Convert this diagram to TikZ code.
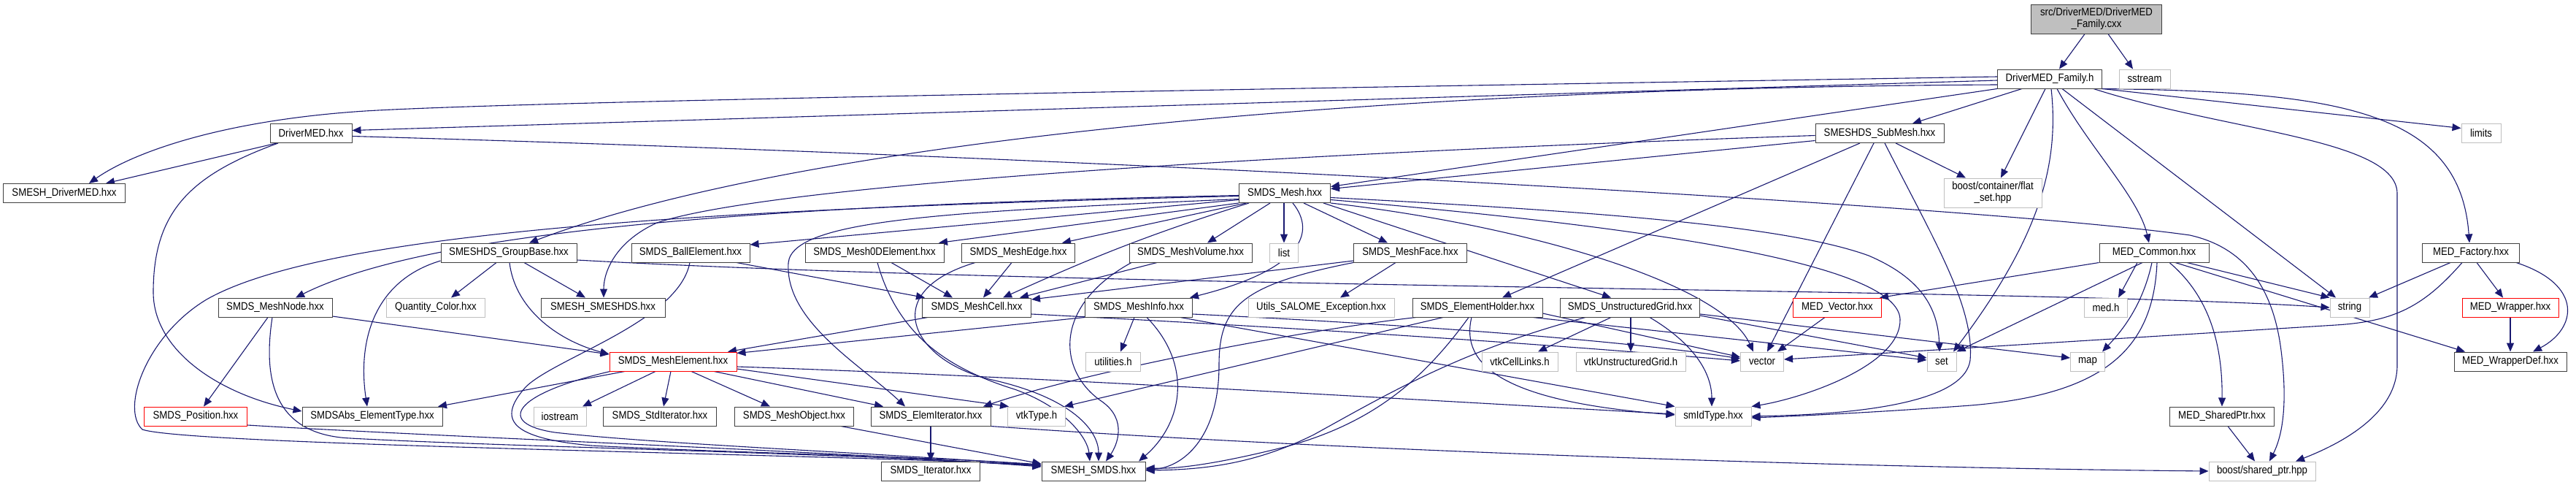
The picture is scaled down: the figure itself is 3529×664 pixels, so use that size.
\documentclass[tikz,border=0pt]{standalone}
\usepackage{fontspec}
\newfontfamily\nodefont{Liberation Sans}[FakeStretch=0.886]
\usetikzlibrary{arrows.meta}
\definecolor{edgec}{HTML}{191970}
\definecolor{bordc}{HTML}{404040}
\definecolor{greyc}{HTML}{BFBFBF}
\definecolor{redc}{HTML}{FF0000}
\pgfdeclarelayer{bg}
\pgfsetlayers{bg,main}
\tikzset{
  nb/.style={draw=bordc, line width=1pt, fill=white, inner sep=0pt, minimum height=26pt,
    font={\nodefont\fontsize{14.9}{16}\selectfont}, align=center, text=black},
  gb/.style={nb, draw=greyc},
  rb/.style={nb, draw=redc, line width=0.9pt},
  fb/.style={nb, fill=greyc},
  ed/.style={draw=edgec, line width=1.1pt, -{Triangle[length=12pt,width=10pt]}},
}
\begin{document}
\begin{tikzpicture}[x=1pt,y=-1pt]
\useasboundingbox (0,0) rectangle (3529,664);
% row A
\node[fb, minimum width=179pt, minimum height=40pt] (cxx) at (2872,26) {src/DriverMED/DriverMED\\\_Family.cxx};
% row B
\node[nb, minimum width=143pt] (famh) at (2808,108) {DriverMED\_Family.h};
\node[gb, minimum width=70pt] (sstream) at (2938,108) {sstream};
% row C
\node[nb, minimum width=112pt] (drvmed) at (426,182.5) {DriverMED.hxx};
\node[nb, minimum width=176pt] (submesh) at (2575,182.5) {SMESHDS\_SubMesh.hxx};
\node[gb, minimum width=54pt] (limits) at (3399,182.5) {limits};
% row D
\node[nb, minimum width=167pt] (smeshdrv) at (88,264.5) {SMESH\_DriverMED.hxx};
\node[nb, minimum width=125pt] (mesh) at (1760,264.5) {SMDS\_Mesh.hxx};
\node[gb, minimum width=134pt, minimum height=40pt] (flatset) at (2730,264) {boost/container/flat\\\_set.hpp};
% row E
\node[nb, minimum width=186pt] (groupbase) at (697,346) {SMESHDS\_GroupBase.hxx};
\node[nb, minimum width=162pt] (ball) at (946,346) {SMDS\_BallElement.hxx};
\node[nb, minimum width=190pt] (m0d) at (1198,346) {SMDS\_Mesh0DElement.hxx};
\node[nb, minimum width=155pt] (edge) at (1395,346) {SMDS\_MeshEdge.hxx};
\node[nb, minimum width=168pt] (volume) at (1631,346) {SMDS\_MeshVolume.hxx};
\node[gb, minimum width=39pt] (list) at (1759,346) {list};
\node[nb, minimum width=155pt] (face) at (1932,346) {SMDS\_MeshFace.hxx};
\node[nb, minimum width=150pt] (medcommon) at (2951,346) {MED\_Common.hxx};
\node[nb, minimum width=133pt] (medfactory) at (3385,346) {MED\_Factory.hxx};
% row F
\node[nb, minimum width=156pt] (meshnode) at (377,421) {SMDS\_MeshNode.hxx};
\node[gb, minimum width=135pt] (qcolor) at (597,421) {Quantity\_Color.hxx};
\node[nb, minimum width=170pt] (smeshds) at (826,421) {SMESH\_SMESHDS.hxx};
\node[nb, minimum width=149pt] (cell) at (1338,421) {SMDS\_MeshCell.hxx};
\node[nb, minimum width=147pt] (info) at (1560,421) {SMDS\_MeshInfo.hxx};
\node[gb, minimum width=200pt] (utilsexc) at (1810,421) {Utils\_SALOME\_Exception.hxx};
\node[nb, minimum width=178pt] (holder) at (2024,421) {SMDS\_ElementHolder.hxx};
\node[nb, minimum width=191pt] (ugrid) at (2233,421) {SMDS\_UnstructuredGrid.hxx};
\node[rb, minimum width=121pt] (medvector) at (2517,421) {MED\_Vector.hxx};
\node[gb, minimum width=59pt] (medh) at (2885,421) {med.h};
\node[gb, minimum width=54pt] (string) at (3219,421) {string};
\node[rb, minimum width=132pt] (medwrapper) at (3439,421) {MED\_Wrapper.hxx};
% row G
\node[rb, minimum width=174pt] (element) at (922,495) {SMDS\_MeshElement.hxx};
\node[gb, minimum width=75pt] (utilities) at (1525,495) {utilities.h};
\node[gb, minimum width=104pt] (vtkcelllinks) at (2082,495) {vtkCellLinks.h};
\node[gb, minimum width=150pt] (vtkugrid) at (2234,495) {vtkUnstructuredGrid.h};
\node[gb, minimum width=59pt] (vector) at (2414,495) {vector};
\node[gb, minimum width=40pt] (set) at (2660,495) {set};
\node[gb, minimum width=47pt] (map) at (2860,495) {map};
\node[nb, minimum width=154pt] (wrapperdef) at (3439,495) {MED\_WrapperDef.hxx};
% row H
\node[rb, minimum width=141pt] (position) at (268,570) {SMDS\_Position.hxx};
\node[nb, minimum width=192pt] (abstype) at (510,570) {SMDSAbs\_ElementType.hxx};
\node[gb, minimum width=72pt] (iostream) at (767,570) {iostream};
\node[nb, minimum width=155pt] (stditer) at (904,570) {SMDS\_StdIterator.hxx};
\node[nb, minimum width=163pt] (meshobj) at (1088,570) {SMDS\_MeshObject.hxx};
\node[nb, minimum width=164pt] (elemiter) at (1275,570) {SMDS\_ElemIterator.hxx};
\node[gb, minimum width=79pt] (vtktype) at (1420,570) {vtkType.h};
\node[gb, minimum width=104pt] (smidtype) at (2347,570) {smIdType.hxx};
\node[nb, minimum width=143pt] (sharedptr) at (3044,570) {MED\_SharedPtr.hxx};
% row I
\node[nb, minimum width=135pt] (iterator) at (1275,645) {SMDS\_Iterator.hxx};
\node[nb, minimum width=142pt] (smds) at (1498,645) {SMESH\_SMDS.hxx};
\node[gb, minimum width=146pt] (boostshared) at (3099,645) {boost/shared\_ptr.hpp};

\begin{pgfonlayer}{bg}
% cxx
\draw[ed] ([xshift=-16pt]cxx.south) -- ([xshift=13pt]famh.north);
\draw[ed] ([xshift=16pt]cxx.south) -- ([xshift=-16pt]sstream.north);
% DriverMED_Family.h
\draw[ed] ([yshift=-2pt]famh.west) -- ([yshift=4pt]drvmed.east);
\draw[ed] ([yshift=3pt]famh.west) .. controls (1500,125) and (700,140) .. (500,152) .. controls (300,165) and (180,210) .. ([xshift=34pt]smeshdrv.north);
\draw[ed] ([yshift=-8pt]famh.west) .. controls (1900,120) and (1100,190) .. ([xshift=28pt]groupbase.north);
\draw[ed] (famh.south west) -- ([yshift=9pt]mesh.east);
\draw[ed] ([xshift=-38pt]famh.south) -- ([xshift=45pt]submesh.north);
\draw[ed] ([xshift=-6pt]famh.south) -- ([xshift=11pt]flatset.north);
\draw[ed] ([xshift=2pt]famh.south) .. controls (2822,230) and (2790,330) .. ([xshift=16pt]set.north);
\draw[ed] ([xshift=10pt]famh.south) .. controls (2860,200) and (2930,270) .. ([xshift=-7pt]medcommon.north);
\draw[ed] ([xshift=17pt]famh.south) -- ([xshift=-19pt]string.north);
\draw[ed] (famh.south east) -- ([yshift=7pt]limits.west);
\draw[ed] ([xshift=-4pt]famh.south east) .. controls (3200,125) and (3370,150) .. ([xshift=-2pt]medfactory.north);
\draw[ed] ([xshift=-12pt]famh.south east) .. controls (3050,180) and (3284,190) .. (3284,265) -- (3284,500) .. controls (3284,570) and (3200,610) .. ([xshift=46pt]boostshared.north);
% DriverMED.hxx
\draw[ed] ([xshift=-47pt]drvmed.south) -- ([xshift=57pt]smeshdrv.north);
\draw[ed] ([xshift=-45pt]drvmed.south) .. controls (260,240) and (210,290) .. (210,400) .. controls (210,480) and (300,540) .. ([yshift=7pt]abstype.west);
\draw[ed] ([yshift=-4pt]drvmed.east) .. controls (1500,215) and (2700,280) .. (3000,322) .. controls (3080,340) and (3115,400) .. (3125,480) .. controls (3135,560) and (3125,600) .. ([xshift=10pt]boostshared.north);
% SMESHDS_SubMesh
\draw[ed] ([yshift=-10pt]submesh.west) -- ([yshift=6pt]mesh.east);
\draw[ed] ([yshift=-3pt]submesh.west) .. controls (1700,212) and (1050,255) .. (900,305) .. controls (845,330) and (827,370) .. ([xshift=1pt]smeshds.north);
\draw[ed] ([xshift=-27pt]submesh.south) -- ([xshift=34pt]holder.north);
\draw[ed] ([xshift=-8pt]submesh.south) -- ([xshift=7pt]vector.north);
\draw[ed] ([xshift=7pt]submesh.south) .. controls (2650,330) and (2705,420) .. (2699,493) .. controls (2690,560) and (2500,568) .. (smidtype.east);
\draw[ed] ([xshift=22pt]submesh.south) -- ([xshift=-37pt]flatset.north);
% SMDS_Mesh
\draw[ed] ([xshift=-1pt]mesh.south) -- (list.north);
\draw[ed] ([yshift=-3pt]mesh.west) .. controls (1100,280) and (600,310) .. ([xshift=28pt]meshnode.north);
\draw[ed] ([yshift=-4pt]mesh.west) .. controls (1000,285) and (450,315) .. (283,410) .. controls (200,460) and (165,560) .. (195,588) .. controls (260,610) and (1150,622) .. ([yshift=8pt]smds.west);
\draw[ed] ([yshift=-8pt]mesh.west) .. controls (1300,290) and (1085,300) .. (1080,360) .. controls (1075,440) and (1180,500) .. ([xshift=-35pt]elemiter.north);
\draw[ed] ([yshift=-9pt]mesh.west) -- ([yshift=11pt]ball.east);
\draw[ed] (mesh.south west) -- ([xshift=88pt]m0d.north);
\draw[ed] ([xshift=-53pt]mesh.south) -- ([xshift=60pt]edge.north);
\draw[ed] ([xshift=-49pt]mesh.south) .. controls (1560,325) and (1480,360) .. ([xshift=36pt]cell.north);
\draw[ed] ([xshift=-20pt]mesh.south) -- ([xshift=23pt]volume.north);
\draw[ed] ([xshift=11pt]mesh.south) .. controls (1805,320) and (1780,370) .. ([xshift=70pt]info.north);
\draw[ed] ([xshift=26pt]mesh.south) -- ([xshift=-31pt]face.north);
\draw[ed] ([xshift=53pt]mesh.south) -- ([xshift=-26pt]ugrid.north);
\draw[ed] ([yshift=-6pt]mesh.east) .. controls (2200,290) and (2450,310) .. (2560,350) .. controls (2630,380) and (2655,420) .. ([xshift=-3pt]set.north);
\draw[ed] ([yshift=-9pt]mesh.east) .. controls (2250,310) and (2600,360) .. (2603,437) .. controls (2605,500) and (2470,545) .. (smidtype.north east);
\draw[ed] (mesh.south east) .. controls (2100,310) and (2360,390) .. ([xshift=-12pt]vector.north);
% SMESHDS_GroupBase
\draw[ed] ([xshift=-17pt]groupbase.south) -- ([xshift=21pt]qcolor.north);
\draw[ed] ([xshift=21pt]groupbase.south) -- ([xshift=-24pt]smeshds.north);
\draw[ed] ([xshift=1pt]groupbase.south) .. controls (705,420) and (760,465) .. ([yshift=10pt]element.west);
\draw[ed] ([yshift=-11pt]groupbase.west) .. controls (510,385) and (490,470) .. ([xshift=-7pt]abstype.north);
\draw[ed] ([yshift=-10pt]groupbase.east) .. controls (1500,395) and (2800,395) .. (string.west);
% cell providers
\draw[ed] ([xshift=63pt]ball.south) -- ([xshift=4pt]cell.north west);
\draw[ed] ([xshift=-1pt]ball.south) .. controls (930,440) and (760,490) .. (720,530) .. controls (680,575) and (700,600) .. (810,610) .. controls (1000,620) and (1250,624) .. ([yshift=9pt]smds.west);
\draw[ed] ([xshift=23pt]m0d.south) -- ([xshift=-33pt]cell.north);
\draw[ed] ([xshift=4pt]m0d.south) .. controls (1230,460) and (1300,505) .. (1390,533) .. controls (1460,558) and (1490,600) .. ([xshift=-5pt]smds.north);
\draw[ed] ([xshift=-9pt]edge.south) -- ([xshift=9pt]cell.north);
\draw[ed] ([xshift=-59pt]edge.south) .. controls (1200,400) and (1250,495) .. (1359,520) .. controls (1470,545) and (1505,590) .. ([xshift=7pt]smds.north);
\draw[ed] ([xshift=-46pt]volume.south) -- ([xshift=59pt]cell.north);
\draw[ed] ([xshift=-81pt]volume.south) .. controls (1440,420) and (1450,510) .. (1510,550) .. controls (1545,575) and (1530,610) .. ([xshift=17pt]smds.north);
\draw[ed] ([yshift=-11pt]face.west) -- ([yshift=11pt]cell.east);
\draw[ed] (face.south west) .. controls (1700,390) and (1670,420) .. (1670,500) .. controls (1670,600) and (1620,640) .. ([yshift=2pt]smds.east);
\draw[ed] ([xshift=-20pt]face.south) -- ([xshift=26pt]utilsexc.north);
% MED_Common
\draw[ed] (medcommon.south west) -- ([xshift=58pt]medvector.north);
\draw[ed] ([xshift=-23pt]medcommon.south) -- ([xshift=17pt]medh.north);
\draw[ed] ([xshift=-16pt]medcommon.south) -- (set.north east);
\draw[ed] ([xshift=-3pt]medcommon.south) .. controls (2935,420) and (2905,455) .. ([xshift=20pt]map.north);
\draw[ed] ([xshift=4pt]medcommon.south) .. controls (2950,480) and (2880,540) .. (2700,555) .. controls (2550,566) and (2450,570) .. ([yshift=-2pt]smidtype.east);
\draw[ed] ([xshift=21pt]medcommon.south) .. controls (3020,400) and (3045,460) .. (sharedptr.north);
\draw[ed] ([xshift=29pt]medcommon.south) -- ([xshift=-62pt]wrapperdef.north);
\draw[ed] ([xshift=45pt]medcommon.south) -- (string.north west);
% MED_Factory
\draw[ed] ([xshift=-28pt]medfactory.south) -- ([xshift=26pt]string.north);
\draw[ed] ([xshift=-12pt]medfactory.south) .. controls (3320,420) and (3280,440) .. (3200,445) -- ([yshift=3pt]vector.east);
\draw[ed] ([xshift=8pt]medfactory.south) -- ([xshift=-10pt]medwrapper.north);
\draw[ed] ([xshift=62pt]medfactory.south) .. controls (3540,390) and (3530,450) .. ([xshift=31pt]wrapperdef.north);
\draw[ed] ([xshift=-17pt]medvector.south) -- ([xshift=21pt]vector.north);
\draw[ed] (medwrapper) -- (wrapperdef);
% SMDS_MeshNode / Position
\draw[ed] ([xshift=-10pt]meshnode.south) -- ([xshift=11pt]position.north);
\draw[ed] ([xshift=-4pt]meshnode.south) .. controls (360,520) and (375,595) .. (480,600) .. controls (700,612) and (1150,620) .. ([yshift=7pt]smds.west);
\draw[ed] ([yshift=-12pt]meshnode.east) -- ([yshift=10pt]element.west);
\draw[ed] ([yshift=-12pt]position.east) .. controls (600,598) and (1150,618) .. ([yshift=6pt]smds.west);
% SMDS_MeshCell / MeshInfo
\draw[ed] ([xshift=-67pt]cell.south) -- ([xshift=75pt]element.north);
\draw[ed] ([yshift=-9pt]cell.east) .. controls (1900,455) and (2200,478) .. ([yshift=1pt]vector.west);
\draw[ed] (info.south west) -- ([yshift=-2pt]element.north east);
\draw[ed] ([xshift=-6pt]info.south) -- ([xshift=10pt]utilities.north);
\draw[ed] ([xshift=11pt]info.south) .. controls (1635,500) and (1620,580) .. ([xshift=62pt]smds.north);
\draw[ed] ([xshift=57pt]info.south) -- (smidtype.north west);
\draw[ed] ([yshift=-9pt]info.east) .. controls (2000,448) and (2250,470) .. ([yshift=4pt]vector.west);
% SMDS_ElementHolder
\draw[ed] ([xshift=-84pt]holder.south) .. controls (1800,450) and (1500,505) .. ([xshift=72pt]elemiter.north);
\draw[ed] ([xshift=-47pt]holder.south) -- ([xshift=38pt]vtktype.north);
\draw[ed] ([xshift=-12pt]holder.south) .. controls (1950,520) and (1880,580) .. (1760,612) .. controls (1680,632) and (1620,642) .. ([yshift=4pt]smds.east);
\draw[ed] ([xshift=-8pt]holder.south) .. controls (2000,500) and (2060,550) .. ([yshift=2pt]smidtype.west);
\draw[ed] ([yshift=-8pt]holder.east) -- ([yshift=6pt]vector.west);
\draw[ed] ([xshift=76pt]holder.south) -- ([yshift=2pt]set.west);
% SMDS_UnstructuredGrid
\draw[ed] ([xshift=-26pt]ugrid.south) -- ([xshift=25pt]vtkcelllinks.north);
\draw[ed] ([xshift=1pt]ugrid.south) -- (vtkugrid.north);
\draw[ed] ([xshift=-61pt]ugrid.south) .. controls (2000,480) and (1900,540) .. (1800,595) .. controls (1720,635) and (1650,643) .. ([yshift=1pt]smds.east);
\draw[ed] ([xshift=27pt]ugrid.south) .. controls (2320,470) and (2345,510) .. ([xshift=-2pt]smidtype.north);
\draw[ed] ([yshift=-9pt]ugrid.east) -- ([yshift=5pt]map.west);
\draw[ed] ([yshift=-11pt]ugrid.east) -- ([yshift=5pt]set.west);
% SMDS_MeshElement
\draw[ed] ([xshift=-66pt]element.south) -- ([xshift=90pt]abstype.north);
\draw[ed] ([xshift=-86pt]element.south) .. controls (700,540) and (680,580) .. (760,592) .. controls (900,608) and (1200,620) .. ([yshift=8pt]smds.west);
\draw[ed] ([xshift=-24pt]element.south) -- ([xshift=31pt]iostream.north);
\draw[ed] ([xshift=-3pt]element.south) -- ([xshift=5pt]stditer.north);
\draw[ed] ([xshift=25pt]element.south) -- ([xshift=-33pt]meshobj.north);
\draw[ed] ([xshift=56pt]element.south) -- ([xshift=-65pt]elemiter.north);
\draw[ed] ([yshift=-10pt]element.east) -- ([xshift=2pt]vtktype.north west);
\draw[ed] ([yshift=-7pt]element.east) .. controls (1400,515) and (1900,545) .. ([yshift=3pt]smidtype.west);
% lower rows
\draw[ed] ([xshift=64pt]meshobj.south) -- ([yshift=10pt]smds.west);
\draw[ed] (elemiter) -- (iterator);
\draw[ed] (elemiter.south east) .. controls (1800,615) and (2500,640) .. (boostshared.west);
\draw[ed] ([xshift=8pt]sharedptr.south) -- ([xshift=-10pt]boostshared.north);
\end{pgfonlayer}
\end{tikzpicture}
\end{document}
